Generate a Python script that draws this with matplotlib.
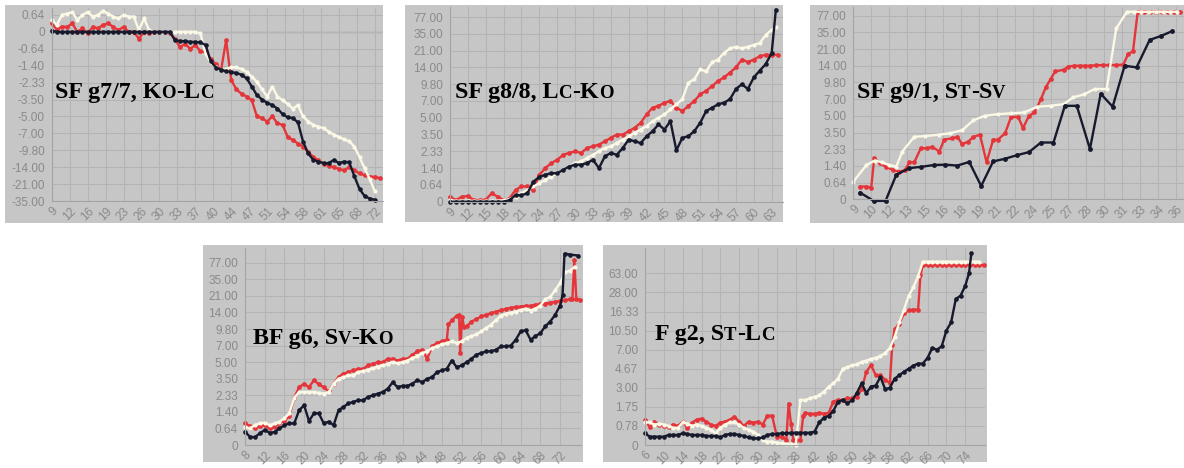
import numpy as np
import matplotlib
matplotlib.use("Agg")
import matplotlib.pyplot as plt
from matplotlib.patches import Rectangle

# ---------------- data ----------------
# panel 1: SF g7/7
p1_ticks = [-35, -21, -14, -9.8, -7, -5, -3.5, -2.33, -1.4, -0.64, 0, 0.64]
p1_red_x = list(range(9, 74))
p1_red = [0.32, 0.1, 0.2, 0.19, 0.32, 0.0, 0.13, -0.06, 0.19, 0.13, 0.26, 0.32, 0.19, 0.06, 0.19,
          0.0, 0.0, -0.26, 0.0, -0.03, 0.0, 0.0, 0.0, -0.03, -0.26, -0.58, -0.45, -0.64, -0.5, -0.75,
          -0.8, -1.1, -1.33, -1.66, -0.32, -2.19, -2.8, -3.1, -3.3, -3.56, -5.0, -5.2, -5.6, -5.0, -5.8,
          -6.0, -7.6, -8.1, -8.7, -9.2, -10.2, -11.5, -12.3, -13.2, -13.6, -14.0, -14.7, -15.3, -14.0,
          -15.3, -16.6, -17.3, -17.9, -18.0, -18.6]
p1_cream_x = list(range(9, 73))
p1_cream = [0.45, 0.26, 0.64, 0.7, 0.77, 0.45, 0.64, 0.77, 0.58, 0.64, 0.83, 0.7, 0.58, 0.51, 0.64,
            0.58, 0.58, 0.06, 0.51, 0.06, 0.0, 0.0, 0.0, 0.0, 0.0, 0.0, 0.0, 0.0, 0.0, -0.06, -0.87,
            -1.25, -1.49, -1.66, -1.58, -1.49, -1.49, -1.58, -1.75, -2.0, -2.28, -2.8, -3.3, -2.6, -3.3,
            -3.56, -3.9, -4.3, -4.0, -5.0, -5.6, -6.0, -6.2, -6.4, -6.8, -7.2, -7.6, -8.0, -8.3, -9.2,
            -11.5, -14.5, -19.0, -27.0]
p1_black_x = list(range(9, 73))
p1_black = [0.05] + [0.0] * 23 + [-0.3, -0.35, -0.35, -0.38, -0.38, -0.4, -0.5, -1.2, -1.5, -1.62,
            -1.7, -1.75, -1.8, -1.9, -2.1, -2.6, -3.2, -3.5, -3.8, -4.0, -4.3, -4.8, -5.1, -5.2, -5.7,
            -8.4, -10.6, -12.2, -12.6, -13.0, -13.0, -12.2, -13.0, -12.6, -12.8, -17.8, -25.0, -31.0,
            -33.0, -34.0]

# panels 2-4 share the same y labels
p2_ticks = [0, 0.64, 1.4, 2.33, 3.5, 5, 7, 9.8, 14, 21, 35, 77]

# panel 2: SF g8/8
p2_red_x = list(range(9, 65))
p2_red = [0.19, 0.06, 0.19, 0.22, 0.06, 0.06, 0.08, 0.32, 0.19, 0.06, 0.13, 0.45, 0.58, 0.58, 0.45,
          1.1, 1.4, 1.68, 1.86, 2.14, 2.24, 2.33, 2.24, 2.56, 2.68, 2.8, 3.03, 3.27, 3.5, 3.5, 3.8,
          4.1, 4.55, 5.4, 6.2, 6.4, 6.8, 7.0, 6.2, 5.8, 6.4, 7.0, 8.1, 8.7, 9.5, 10.6, 11.5, 12.7,
          14.0, 17.3, 16.2, 17.3, 18.6, 19.3, 19.3, 19.3]
p2_cream_x = list(range(9, 64)) + [63.7]
p2_cream = [0.06, 0.03, 0.03, 0.03, 0.03, 0.03, 0.03, 0.03, 0.03, 0.06, 0.1, 0.19, 0.32, 0.45, 0.58,
            0.72, 0.87, 1.02, 1.17, 1.32, 1.49, 1.68, 1.77, 1.96, 2.14, 2.33, 2.56, 2.68, 2.91, 3.15,
            3.38, 3.65, 3.95, 4.25, 4.7, 5.0, 5.4, 6.0, 6.6, 7.3, 10.2, 11.0, 13.5, 13.0, 16.2, 17.3,
            20.0, 22.9, 24.2, 22.9, 24.2, 25.8, 27.2, 34.0, 45.0, 53.0]
p2_black_x = list(range(9, 64)) + [63.7]
p2_black = [0.0] * 10 + [0.06, 0.25, 0.25, 0.32, 0.79, 1.0, 1.1, 1.17, 1.17, 1.32, 1.49, 1.59, 1.59,
            1.68, 1.86, 1.4, 2.05, 2.24, 2.14, 2.56, 3.15, 3.03, 2.91, 3.38, 3.8, 4.4, 3.95, 4.7, 2.4,
            3.27, 3.38, 3.8, 4.55, 5.8, 6.2, 6.6, 6.8, 7.3, 9.0, 9.8, 9.0, 11.5, 13.2, 15.4, 20.0, 131.0]

# panel 3: SF g9/1
p3_red_x = [9.55, 10.1, 10.5, 10.75, 11.2, 11.7, 12.3, 12.85, 13.3, 13.7, 14.1, 14.65, 15.2, 15.6,
            16.2, 16.6, 17.3, 17.7, 18.1, 18.6, 19.05, 19.6, 20.15, 20.7, 21.1, 21.7, 22.2, 22.8,
            23.2, 23.7, 24.15, 24.7, 25.1, 25.5, 25.9, 26.6, 27.0, 27.5, 28.0, 28.4, 28.8, 29.3,
            29.9, 30.4, 31.0, 31.6, 32.0, 32.4, 32.8, 33.3, 33.8, 34.3, 34.8, 35.3, 35.8, 36.3]
p3_red = [0.49, 0.49, 0.45, 1.83, 1.55, 1.37, 1.22, 1.14, 1.2, 1.6, 1.6, 2.4, 2.4, 2.5, 2.2, 3.0,
          3.1, 3.2, 2.7, 2.85, 3.2, 3.35, 1.6, 3.0, 3.0, 3.45, 4.9, 4.9, 3.9, 5.0, 5.4, 7.0, 8.96,
          10.6, 12.6, 13.0, 13.8, 14.0, 14.0, 14.0, 14.0, 14.2, 14.3, 14.3, 14.3, 14.5, 19.0, 20.0,
          106, 106, 106, 106, 106, 106, 106, 106]
p3_cream_x = [9.0, 10.1, 10.8, 11.4, 12.0, 12.6, 13.1, 14.1, 15.0, 16.2, 17.1, 18.1, 19.05, 20.0,
              21.1, 22.2, 23.3, 24.4, 25.5, 26.6, 27.4, 28.3, 29.2, 30.2, 31.0, 31.9, 32.5, 33.1,
              33.7, 34.3, 34.9, 35.5, 36.1]
p3_cream = [0.68, 1.45, 1.7, 1.6, 1.45, 1.37, 2.2, 3.2, 3.25, 3.35, 3.45, 3.7, 4.6, 5.0, 5.2, 5.3,
            5.4, 6.1, 6.2, 6.4, 7.3, 7.8, 8.7, 8.7, 45, 106, 106, 106, 106, 106, 106, 106, 106]
p3_black_x = [9.55, 10.7, 11.7, 12.6, 13.7, 14.7, 15.75, 16.7, 17.7, 18.7, 19.7, 20.7, 21.7, 22.7,
              23.7, 24.7, 25.75, 26.7, 27.7, 28.8, 29.7, 30.7, 31.7, 32.7, 33.8, 34.75, 35.7]
p3_black = [0.26, -0.06, -0.06, 1.0, 1.3, 1.36, 1.45, 1.47, 1.42, 1.62, 0.51, 1.65, 1.8, 2.0, 2.17,
            2.8, 2.8, 6.2, 6.2, 2.35, 7.9, 6.1, 14.0, 13.6, 28.7, 32.0, 38.4]

# panel 4: BF g6
p4_red_x = list(range(8, 50)) + [49.3, 50, 51, 51.5, 51.7, 52.1, 52.5] + list(range(53, 75)) + [74.5, 74.9, 75.3, 76]
p4_red = [0.87, 0.75, 0.64, 0.75, 0.79, 0.64, 0.7, 0.9, 0.98, 1.2, 2.2, 2.9, 3.15, 2.9, 3.4, 3.1,
          2.9, 2.6, 3.15, 3.65, 3.95, 4.1, 4.25, 4.4, 4.4, 4.7, 4.85, 5.0, 5.0, 5.4, 5.4, 5.2, 5.4,
          5.4, 5.9, 6.3, 6.5, 5.4, 6.9, 7.45, 7.7, 8.0,
          11.0, 12.0, 13.2, 13.4, 6.1, 12.8, 10.3,
          10.5, 11.7, 12.3, 13.0, 13.4, 13.8, 14.4, 14.9, 15.5, 16.0, 16.3, 16.5, 16.8, 16.8, 17.2,
          17.7, 17.7, 18.1, 18.5, 18.8, 19.2, 19.5,
          19.7, 95.0, 19.7, 19.4]
p4_cream_x = list(range(8, 76))
p4_cream = [0.7, 0.64, 0.79, 0.87, 0.9, 0.79, 0.87, 0.95, 1.1, 1.33, 2.2, 2.56, 2.56, 2.56, 2.56, 2.5,
            2.45, 2.56, 3.15, 3.5, 3.65, 3.8, 3.8, 4.1, 4.2, 4.3, 4.45, 4.6, 4.7, 4.85, 5.0, 4.9, 5.0,
            5.2, 5.5, 5.7, 6.1, 6.3, 6.7, 6.9, 7.2, 7.45, 7.7, 7.45, 7.7, 8.3, 8.6, 8.9, 9.4, 10.1,
            10.9, 12.1, 13.2, 13.7, 13.9, 14.4, 15.0, 15.6, 14.8, 15.6, 16.9, 19.6, 20.6, 25.8, 32.0,
            53.0, 57.0, 67.0]
p4_black_x = list(range(8, 73)) + [72.5, 72.9, 74, 75.7]
p4_black = [0.51, 0.32, 0.3, 0.45, 0.58, 0.47, 0.5, 0.64, 0.79, 0.87, 0.87, 1.49, 1.77, 0.98, 1.33,
            1.33, 0.87, 0.95, 0.79, 1.49, 1.68, 1.87, 1.96, 2.05, 2.05, 2.24, 2.33, 2.45, 2.56, 2.8,
            3.25, 2.9, 3.0, 3.0, 3.15, 3.4, 3.25, 3.5, 3.65, 4.1, 4.25, 4.4, 5.2, 4.55, 4.7, 5.0, 5.4,
            5.9, 6.1, 6.3, 6.3, 6.5, 6.9, 6.9, 7.0, 8.0, 9.4, 9.6, 8.0, 8.6, 9.1, 10.5, 11.7, 13.4,
            16.9, 21.5, 145.0, 138.0, 130.0]

# panel 5: F g2
p5_ticks = [0, 0.78, 1.75, 3, 4.67, 7, 10.5, 16.33, 28, 63]
p5_red_x = list(range(6, 36)) + [36, 36.5, 37, 37.5, 38, 39, 39.6] + list(range(40, 59)) + [58.5] + list(range(59, 65)) + [64.5] + list(range(65, 79))
p5_red = [1.06, 0.75, 1.0, 0.85, 0.78, 0.75, 0.85, 0.78, 1.0, 0.7, 0.95, 1.1, 1.15, 1.0, 0.85, 0.78,
          0.95, 1.0, 1.1, 1.25, 1.0, 0.78, 1.0, 0.95, 1.0, 0.85, 1.3, 1.3, 0.34, 0.34,
          0.2, 1.97, 0.9, 0.2, 0.2, 0.2, 1.3,
          1.45, 1.4, 1.4, 1.45, 1.4, 1.45, 2.1, 2.2, 2.2, 2.3, 2.3, 2.4, 2.9, 4.4, 5.1, 4.1, 4.1,
          3.7, 3.4,
          7.9,
          10.9, 12.6, 15.8, 17.0, 17.5, 17.5,
          60.0] + [167.0] * 14
p5_cream_x = list(range(6, 78))
p5_cream = [0.96, 0.96, 0.85, 0.9, 0.85, 0.78, 0.7, 0.7, 0.96, 0.9, 0.78, 0.85, 0.78, 0.7, 0.62, 0.48,
            0.7, 0.85, 0.96, 0.96, 0.85, 0.7, 0.62, 0.55, 0.41, 0.2, 0.14, 0.14, 0.1, 0.07, 0.04,
            0.04, 0.0, 2.2, 2.2, 2.3, 2.4, 2.5, 2.75, 3.1, 3.4, 3.8, 4.67, 4.85, 5.1, 5.2, 5.5, 5.65,
            5.85, 6.0, 6.2, 6.6, 7.3, 9.3, 13.0, 17.5, 26.0, 37.5, 58.0] + [208.0] * 13
p5_black_x = list(range(6, 75)) + [74.8, 75.3]
p5_black = [0.48, 0.34, 0.34, 0.34, 0.34, 0.41, 0.41, 0.41, 0.48, 0.45, 0.41, 0.41, 0.41, 0.37, 0.37,
            0.37, 0.31, 0.41, 0.45, 0.45, 0.41, 0.37, 0.31, 0.27, 0.27, 0.31, 0.41, 0.45, 0.45, 0.48,
            0.48, 0.5, 0.5, 0.5, 0.5, 0.5, 0.55, 0.96, 1.2, 1.29, 1.55, 2.1, 2.2, 1.98, 2.2, 2.66,
            3.4, 2.66, 3.1, 3.2, 3.95, 2.9, 3.0, 3.8, 4.1, 4.4, 4.67, 5.05, 5.3, 5.3, 6.0, 7.3, 7.0,
            7.6, 10.5, 13.0, 24.0, 26.0, 40.0, 63.0, 315.0]

# ---------------- drawing ----------------
W, H = 1184, 468
BG = "#c6c6c6"
GRID = "#b4b4b4"
AXIS = "#a4a4a4"
TXT = "#8a8a8a"
RED = "#e4353a"
CREAM = "#fbf8e6"
BLACK = "#161a2c"

fig = plt.figure(figsize=(W / 100, H / 100), dpi=100)


def px_rect(l, t, r, b):
    return [l / W, 1 - b / H, (r - l) / W, (b - t) / H]


def panel(ax_px, box_px, ticks, lo, hi, top_idx, xlim, x0, step, nx, series):
    l, t, r, b = box_px
    fig.add_artist(Rectangle((l / W, 1 - b / H), (r - l) / W, (b - t) / H,
                             transform=fig.transFigure, facecolor=BG, edgecolor="none", zorder=-1))
    ax = fig.add_axes(px_rect(*ax_px))
    ax.set_facecolor(BG)
    vals = np.array([lo] + ticks + hi, float)
    idx = np.arange(len(vals)) - 1.0
    fwd = lambda v: np.interp(v, vals, idx)
    inv = lambda i: np.interp(i, idx, vals)
    ax.set_yscale("function", functions=(fwd, inv))
    ax.set_ylim(ticks[0], float(inv(top_idx)))
    ax.set_xlim(*xlim)
    ax.set_yticks(ticks)
    ax.set_yticklabels(["0" if v == 0 else f"{v:.2f}" for v in ticks])
    xt = [x0 + step * k for k in range(nx)]
    ax.set_xticks(xt)
    ax.set_xticklabels([str(int(np.floor(v))) for v in xt], rotation=45, ha="right",
                       rotation_mode="anchor")
    ax.tick_params(length=0, colors=TXT, labelsize=8.5)
    ax.tick_params(axis="y", pad=5)
    ax.tick_params(axis="x", pad=3)
    for lab in ax.get_xticklabels() + ax.get_yticklabels():
        lab.set_family("Liberation Sans")
    ax.grid(True, color=GRID, lw=0.8)
    ax.set_axisbelow(True)
    for s in ["top", "right"]:
        ax.spines[s].set_visible(False)
    for s in ["left", "bottom"]:
        ax.spines[s].set_color(AXIS)
    for xs, ys, c, ms in series:
        ax.plot(xs, ys, color=c, lw=1.7, marker="o", ms=ms, mew=0, clip_on=False)
    return ax


def label(x, y, chunks, size=17.3):
    rend = fig.canvas.get_renderer()
    for s, small in chunks:
        t = fig.text(x / W, 1 - y / H, s, fontsize=size * (0.78 if small else 1.0),
                     family="Liberation Serif", weight="bold", va="baseline", color="black")
        x += t.get_window_extent(rend).width


ax1 = panel((51.7, 8.2, 382.6, 201), (5, 5, 383, 223), p1_ticks, -70, [1.4], 11.4,
            (9, 73.5), 9, 3.5, 19,
            [(p1_red_x, p1_red, RED, 3.4), (p1_cream_x, p1_cream, CREAM, 3.0),
             (p1_black_x, p1_black, BLACK, 3.3)])
ax1.axhline(0, color=AXIS, lw=1, zorder=0.5)

panel((450, 7, 783, 201.7), (405, 5, 783, 222), p2_ticks, -0.64, [200], 11.6,
      (9, 64.9), 9, 3, 19,
      [(p2_red_x, p2_red, RED, 3.4), (p2_cream_x, p2_cream, CREAM, 3.0),
       (p2_black_x, p2_black, BLACK, 3.3)])

panel((853.3, 7, 1184, 199.3), (810, 5, 1184, 223), p2_ticks, -0.64, [200], 11.52,
      (9, 36.67), 9, 1.5, 19,
      [(p3_red_x, p3_red, RED, 3.4), (p3_cream_x, p3_cream, CREAM, 3.0),
       (p3_black_x, p3_black, BLACK, 3.5)])

panel((245, 248, 581, 445), (203, 245, 583, 462), p2_ticks, -0.64, [200], 11.89,
      (8, 76.25), 8, 4, 17,
      [(p4_red_x, p4_red, RED, 3.4), (p4_cream_x, p4_cream, CREAM, 3.0),
       (p4_black_x, p4_black, BLACK, 3.3)])

panel((645, 248, 985, 445), (603, 245, 987, 462), p5_ticks, -0.78, [300, 600], 10.33,
      (6, 78.2), 6, 4, 18,
      [(p5_red_x, p5_red, RED, 3.4), (p5_cream_x, p5_cream, CREAM, 3.0),
       (p5_black_x, p5_black, BLACK, 3.3)])

label(55, 98, [("SF g7/7, K", False), ("O", True), ("-L", False), ("C", True)])
label(455, 98, [("SF g8/8, L", False), ("C", True), ("-K", False), ("O", True)])
label(857, 98, [("SF g9/1, S", False), ("T", True), ("-S", False), ("V", True)])
label(253, 344, [("BF g6, S", False), ("V", True), ("-K", False), ("O", True)])
label(655, 340, [("F g2, S", False), ("T", True), ("-L", False), ("C", True)])

fig.savefig("out.png", dpi=100)
